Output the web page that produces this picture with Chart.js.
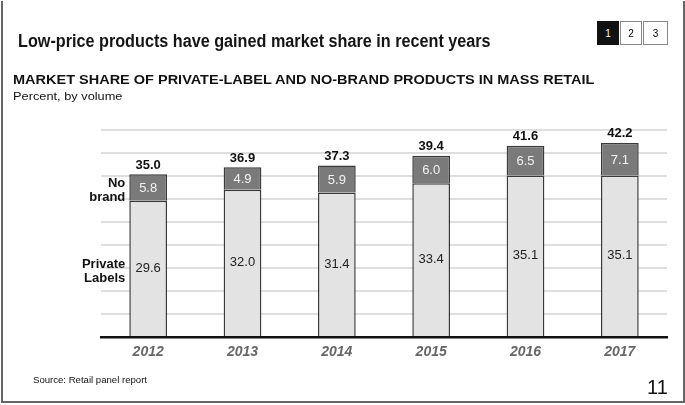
<!DOCTYPE html>
<html>
<head>
<meta charset="utf-8">
<script src="https://cdn.jsdelivr.net/npm/chart.js@4"></script>
<style>
  body { margin: 0; background: #fff; font-family: "Liberation Sans", Arial, sans-serif; }
  #wrap { position: relative; width: 685px; height: 405px; overflow: hidden; }
  #frame { position: absolute; left: 1px; top: 1px; width: 680px; height: 400px; border: 2px solid #666; border-top: none; box-sizing: content-box; }
  canvas { position: absolute; left: 0; top: 0; }
  .txt { position: absolute; white-space: nowrap; color: #111; transform-origin: left; }
  #title { left: 18px; top: 31px; font-size: 17.5px; font-weight: bold; color: #151515; }
  #sub { left: 13px; top: 72px; font-size: 13.5px; font-weight: bold; }
  #unit { left: 13px; top: 90px; font-size: 11.5px; }
  #src { left: 33px; top: 374px; font-size: 9.5px; }
  #page { left: 647px; top: 376px; font-size: 20px; }
  .pg { position: absolute; top: 21px; width: 22px; height: 24px; border: 1px solid #888; font-size: 10px; text-align: center; line-height: 24px; box-sizing: border-box; }
</style>
</head>
<body>
<div id="wrap">
  <div id="frame"></div>
  <canvas id="grafico" width="685" height="405"></canvas>
  <div class="txt" id="title">Low-price products have gained market share in recent years</div>
  <div class="txt" id="sub">MARKET SHARE OF PRIVATE-LABEL AND NO-BRAND PRODUCTS IN MASS RETAIL</div>
  <div class="txt" id="unit">Percent, by volume</div>
  <div class="txt" id="src">Source: Retail panel report</div>
  <div class="txt" id="page">11</div>
  <div class="pg" style="left:597px;background:#111;color:#fff;border-color:#111">1</div>
  <div class="pg" style="left:620px">2</div>
  <div class="pg" style="left:643px;width:25px">3</div>
</div>
<script>
const anos = ["2012", "2013", "2014", "2015", "2016", "2017"];
const privateLabels = [29.6, 32.0, 31.4, 33.4, 35.1, 35.1];
const noBrand = [5.8, 4.9, 5.9, 6.0, 6.5, 7.1];
const totais = ["35.0", "36.9", "37.3", "39.4", "41.6", "42.2"];

// ajusta a largura dos titulos para a largura do original
function ajustaLargura(id, largura) {
  const el = document.getElementById(id);
  el.style.transform = 'scaleX(' + (largura / el.offsetWidth) + ')';
}
ajustaLargura('title', 473);
ajustaLargura('sub', 582);
ajustaLargura('unit', 109);
ajustaLargura('src', 114);

// desenha os valores dentro das barras, os totais e os rotulos da esquerda
const rotulos = {
  id: 'rotulos',
  afterDatasetsDraw(chart) {
    const ctx = chart.ctx;
    const barrasPL = chart.getDatasetMeta(0).data;
    const barrasNB = chart.getDatasetMeta(1).data;
    ctx.save();
    ctx.textAlign = 'center';
    ctx.textBaseline = 'middle';

    barrasPL.forEach((bar, i) => {
      ctx.font = '13px "Liberation Sans", Arial, sans-serif';
      ctx.fillStyle = '#222';
      ctx.fillText(privateLabels[i].toFixed(1), bar.x, (bar.y + bar.base) / 2);
    });

    barrasNB.forEach((bar, i) => {
      ctx.font = '13px "Liberation Sans", Arial, sans-serif';
      ctx.fillStyle = '#f2f2f2';
      ctx.fillText(noBrand[i].toFixed(1), bar.x, (bar.y + bar.base) / 2 + 1);
      ctx.font = 'bold 13px "Liberation Sans", Arial, sans-serif';
      ctx.fillStyle = '#111';
      ctx.fillText(totais[i], bar.x, bar.y - 9);
    });

    // rotulos da esquerda, alinhados com a primeira barra
    const pl0 = barrasPL[0];
    const nb0 = barrasNB[0];
    ctx.textAlign = 'right';
    ctx.font = 'bold 13px "Liberation Sans", Arial, sans-serif';
    ctx.fillStyle = '#111';
    const xr = pl0.x - pl0.width / 2 - 4;
    const ynb = (nb0.y + nb0.base) / 2 + 3;
    ctx.fillText('No', xr, ynb - 7);
    ctx.fillText('brand', xr, ynb + 7);
    const ypl = (pl0.y + pl0.base) / 2 + 3;
    ctx.fillText('Private', xr, ypl - 7);
    ctx.fillText('Labels', xr, ypl + 7);
    ctx.restore();
  }
};

var grafico = document.querySelector('#grafico').getContext('2d');

new Chart(grafico, {
  type: 'bar',
  data: {
    labels: anos,
    datasets: [
      {
        label: 'Private Labels',
        data: privateLabels,
        backgroundColor: '#e3e3e3',
        borderColor: '#3a3a3a',
        borderWidth: 1.5,
        borderSkipped: 'bottom',
      },
      {
        label: 'No brand',
        data: noBrand,
        backgroundColor: '#7a7a7a',
        borderColor: '#3a3a3a',
        borderWidth: 1.5,
        borderSkipped: 'bottom',
      }
    ]
  },
  options: {
    responsive: false,
    animation: false,
    devicePixelRatio: 1,
    layout: { padding: { left: 101, right: 18, top: 130, bottom: 38 } },
    plugins: { legend: { display: false }, tooltip: { enabled: false } },
    datasets: { bar: { barPercentage: 0.4, categoryPercentage: 1 } },
    scales: {
      x: {
        stacked: true,
        afterFit(scale) { scale.height = 30; },
        grid: { display: false, drawTicks: false },
        border: { display: true, color: '#111', width: 2.5 },
        ticks: {
          color: '#666',
          padding: 7,
          font: { family: '"Liberation Sans", Arial, sans-serif', size: 14, weight: 'bold', style: 'italic' }
        }
      },
      y: {
        stacked: true,
        min: 0,
        max: 45,
        afterFit(scale) { scale.width = 0; },
        ticks: { display: false, stepSize: 5 },
        border: { display: false },
        grid: { color: '#dedede', lineWidth: 2, drawTicks: false }
      }
    }
  },
  plugins: [rotulos]
});
</script>
</body>
</html>
